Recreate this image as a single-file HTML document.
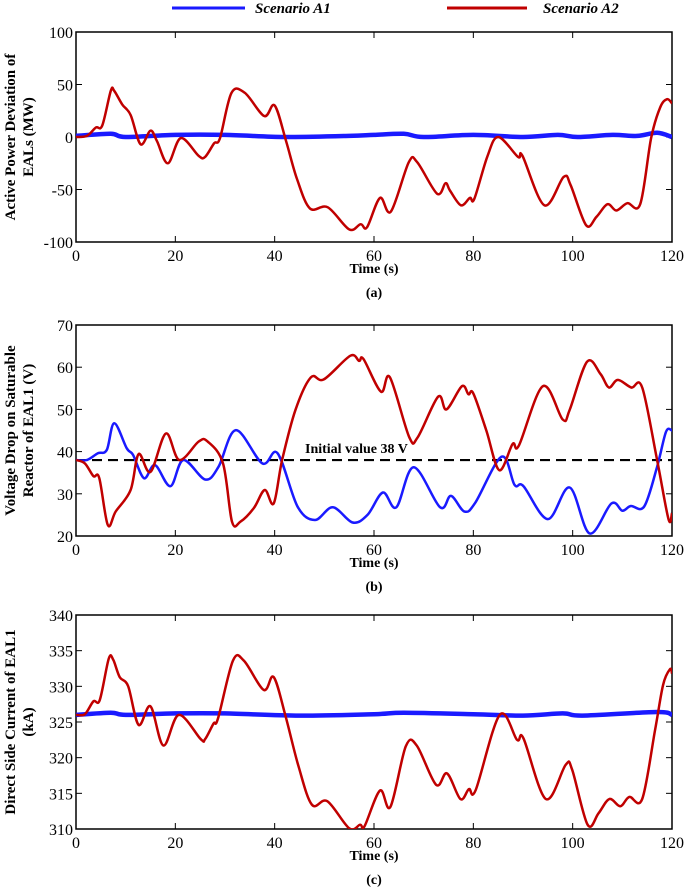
<!DOCTYPE html>
<html><head><meta charset="utf-8">
<style>
body{margin:0;background:#fff;}
svg{display:block;font-family:"Liberation Serif",serif;}
.tick{font-size:16px;fill:#000;}
.ttl{font-size:14px;font-weight:bold;fill:#000;}
.ytl{font-size:15px;font-weight:bold;fill:#000;}
</style></head>
<body>
<svg id="chart" width="685" height="890" viewBox="0 0 685 890" xmlns="http://www.w3.org/2000/svg">
<g>
<line x1="172" y1="8" x2="245" y2="8" stroke="#1a1aff" stroke-width="3"/>
<text x="255" y="13" font-size="15" font-style="italic" font-weight="bold">Scenario A1</text>
<line x1="447" y1="8" x2="527" y2="8" stroke="#c00000" stroke-width="3"/>
<text x="543" y="13" font-size="15" font-style="italic" font-weight="bold">Scenario A2</text>
</g>
</svg>
<script>
// Panel (a)
const timeTicks=[0,20,40,60,80,100,120];
const aTicks=[100,50,0,-50,-100];
const aRedT=[0,2.2,4,5.3,7,7.7,9.3,11,13,15,16.3,18.5,21.1,24.7,26,27.8,29,31.3,34,37.9,40,42.3,44.5,47.1,50.7,55,57.3,58.6,61.2,63.4,67,68.7,72.7,74.4,75.3,77.5,79.3,80.2,82.8,85,89,89.9,94.3,98.2,99.6,102.7,104.8,107,108.8,111,113.6,115.8,117.6,119,120];
const aRedV=[0,1,9,11,44,44,31,21,-7,6,-4,-25,-1,-18,-19,-6,-1,42,42,20,30,-4,-40,-68,-67,-88,-83,-86,-58,-71,-24,-24,-54,-44,-51,-65,-58,-59,-19,0,-19,-18,-65,-38,-46,-84,-76,-64,-70,-63,-64,-1,28,36,32];
const aBlueT=[0,7,10,20,30,42,55,60,66,70,80,90,97,101,108,113,117,120];
const aBlueV=[1,3,0,2,2,0,1,2,3,0,2,0,2,0,2,1,4,0];
// Panel (b)
const bTicks=[70,60,50,40,30,20];
const bInitial=38;
const bRedT=[0,1.8,3.5,4.7,6.4,8,11,12.6,15,18.1,20.8,24.7,26.5,29.6,31.4,33.1,35.8,38,39.8,41.5,44.2,47.3,49.9,55.2,57,57.9,61.4,63.2,67.1,68.8,72.9,74.6,77.7,79,80,82.6,85.2,87.9,89.2,94,98,99.4,102.9,105.6,107.3,109.1,111.8,114,117,119.3,120];
const bRedV=[38,37.2,34.2,33.7,22.6,25.8,30.9,39.4,35.2,44.3,38,42.4,42.4,37.2,23.4,23.4,26.6,30.9,27.7,38,49.9,57.6,57.1,62.7,61.5,61.9,54.2,57.6,43.4,43.4,53,50,55.5,53.6,53.8,45.1,35.6,41.8,41.5,55.5,47.6,49.9,61.3,58.4,55.2,57,55.2,55.2,38,24,25.4];
const bBlueT=[0,2.2,4.4,6.2,7.7,10.2,11.5,13.7,15.9,19,21.6,26,28.7,32.2,37.5,40.6,44.6,48.1,51.7,55.7,58.7,61.8,64.5,68,73.3,75.5,78.2,80.4,85.7,88.3,90.1,95,99.4,103.4,107.8,110,111.7,114.4,117,118.8,120];
const bBlueV=[38,38,39.6,40.4,46.7,40.8,39.2,33.7,36.8,31.8,38,33.4,36.4,45.1,37.2,39.6,27,23.8,26.8,23.2,25,30.3,26.8,36.3,26.8,29.5,25.8,27.9,38.8,32.1,31.8,24,31.5,20.6,27.7,26,27.1,27,36.4,44.7,45];
// Panel (c)
const cTicks=[340,335,330,325,320,315,310];
const cRedT=[0,1.8,3.5,4.8,6.6,7.5,8.8,10.5,12.6,15,17.6,20.7,25.1,26,27.7,28.6,31.6,33.8,37.8,39.8,42.2,44.8,47.5,50.6,55,57.2,58.1,61.2,63.3,66.4,68.6,72.5,74.7,77.4,79.1,80.5,85.3,88.8,90.1,94.6,98.6,99.9,103,105.2,107.4,109.6,111.4,114,116.6,118.2,119.6,120];
const cRedV=[326,326.1,327.9,328.1,333.9,333.7,331.3,330,324.6,327.2,321.7,326,322.6,322.6,324.8,325.5,333.6,333.6,329.5,331.3,325.8,318.8,313.4,313.9,310.1,310.6,310.4,315.4,313.1,321.6,321.7,316.2,317.8,314.2,315.6,315.5,326,322.5,322.7,314.2,319,318.3,310.6,312.2,314.2,313.2,314.5,314.2,323.9,330.2,332.4,331.8];
const cBlueT=[0,7,10,20,30,45,60,66,80,90,98,102,117,120];
const cBlueV=[326,326.3,326,326.2,326.2,325.9,326.1,326.3,326.1,325.9,326.2,325.9,326.4,326];

const NS="http://www.w3.org/2000/svg";
const svg=document.getElementById('chart');
function mk(tag,attrs,parent){const e=document.createElementNS(NS,tag);for(const k in attrs)e.setAttribute(k,attrs[k]);(parent||svg).appendChild(e);return e;}
function smooth(pts){let d='M'+pts[0][0].toFixed(1)+','+pts[0][1].toFixed(1);for(let i=0;i<pts.length-1;i++){const p0=pts[Math.max(0,i-1)],p1=pts[i],p2=pts[i+1],p3=pts[Math.min(pts.length-1,i+2)];const c1=[p1[0]+(p2[0]-p0[0])/6,p1[1]+(p2[1]-p0[1])/6],c2=[p2[0]-(p3[0]-p1[0])/6,p2[1]-(p3[1]-p1[1])/6];d+='C'+c1[0].toFixed(1)+','+c1[1].toFixed(1)+' '+c2[0].toFixed(1)+','+c2[1].toFixed(1)+' '+p2[0].toFixed(1)+','+p2[1].toFixed(1);}return d;}

function panel(cfg){
  const L=76,R=672,T=cfg.top,B=cfg.bottom;
  const xs=t=>L+(t-0)/120*(R-L);
  const ys=v=>B-(v-cfg.min)/(cfg.max-cfg.min)*(B-T);
  const g=mk('g',{});
  
  
  const frame=mk('rect',{x:L,y:T,width:R-L,height:B-T,fill:'none',stroke:'#000','stroke-width':1.5},g);
  
  
  timeTicks.forEach(t=>{
    const x=xs(t);
    mk('line',{x1:x,y1:B,x2:x,y2:B-6,stroke:'#000','stroke-width':1},g);
    mk('line',{x1:x,y1:T,x2:x,y2:T+6,stroke:'#000','stroke-width':1},g);
    const tx=mk('text',{x:x,y:B+19,'text-anchor':'middle',class:'tick'},g);
    tx.textContent=t;
    
    
  });
  cfg.ticks.forEach(v=>{
    const y=ys(v);
    mk('line',{x1:L,y1:y,x2:L+6,y2:y,stroke:'#000','stroke-width':1},g);
    mk('line',{x1:R,y1:y,x2:R-6,y2:y,stroke:'#000','stroke-width':1},g);
    const tx=mk('text',{x:L-3,y:y+6,'text-anchor':'end',class:'tick'},g);
    tx.textContent=v;
    
    
  });
  if(cfg.initial!==undefined){
    const dl=mk('line',{x1:L,y1:ys(cfg.initial),x2:R,y2:ys(cfg.initial),stroke:'#000','stroke-width':2.2,'stroke-dasharray':'10,6'},g);
    
    
    const it=mk('text',{x:305,y:ys(cfg.initial)-7,class:'ttl','font-size':'15'},g);
    it.textContent='Initial value 38 V';
    
    
  }
  const cp=mk('clipPath',{id:'clip'+cfg.id},g);
  mk('rect',{x:L,y:T,width:R-L,height:B-T},cp);
  const blue=mk('path',{d:smooth(cfg.blueT.map((t,i)=>[xs(t),ys(cfg.blueV[i])])),fill:'none',stroke:'#1a1aff','stroke-width':cfg.blueW,'stroke-linejoin':'round','clip-path':'url(#clip'+cfg.id+')'},g);
  
  
  const red=mk('path',{d:smooth(cfg.redT.map((t,i)=>[xs(t),ys(cfg.redV[i])])),fill:'none',stroke:'#c00000','stroke-width':2.5,'stroke-linejoin':'round','clip-path':'url(#clip'+cfg.id+')'},g);
  
  
  const xt=mk('text',{x:374,y:B+31,'text-anchor':'middle',class:'ttl'},g);
  xt.textContent='Time (s)';
  
  
  const cap=mk('text',{x:374,y:B+55,'text-anchor':'middle',class:'ttl'},g);
  cap.textContent='('+cfg.id+')';
  
  
  const cy=(T+B)/2;
  const yt=mk('text',{transform:'translate(0,'+cy+') rotate(-90)','text-anchor':'middle',class:'ytl'},g);
  
  
  const t1=mk('tspan',{x:0,y:15},yt);t1.textContent=cfg.ylab[0];
  const t2=mk('tspan',{x:0,y:33},yt);t2.textContent=cfg.ylab[1];
}
panel({id:'a',top:32,bottom:242,min:-100,max:100,ticks:aTicks,redT:aRedT,redV:aRedV,blueT:aBlueT,blueV:aBlueV,blueW:4.5,ylab:['Active Power Deviation of','EALs (MW)']});
panel({id:'b',top:325,bottom:536,min:20,max:70,ticks:bTicks,redT:bRedT,redV:bRedV,blueT:bBlueT,blueV:bBlueV,blueW:2.5,initial:bInitial,ylab:['Voltage Drop on Saturable','Reactor  of EAL1 (V)']});
panel({id:'c',top:615,bottom:829,min:310,max:340,ticks:cTicks,redT:cRedT,redV:cRedV,blueT:cBlueT,blueV:cBlueV,blueW:4.5,ylab:['Direct Side Current of EAL1','(kA)']});
</script>
</body></html>
